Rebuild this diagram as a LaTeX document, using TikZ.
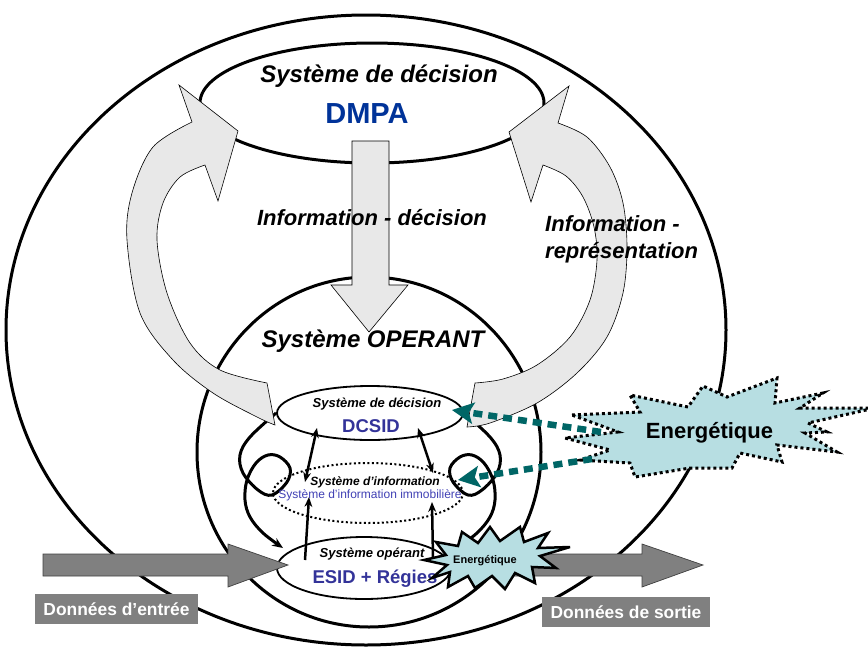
\documentclass[tikz,border=0pt]{standalone}
\usepackage{fontspec}
\setmainfont{Liberation Sans}
\usetikzlibrary{shapes.geometric,arrows.meta,calc}
\definecolor{lgray}{RGB}{232,232,232}
\definecolor{dgray}{RGB}{128,128,128}
\definecolor{tealc}{RGB}{0,102,102}
\definecolor{starcyan}{RGB}{183,222,226}
\definecolor{blueA}{RGB}{0,51,153}
\definecolor{blueB}{RGB}{51,51,153}
\definecolor{blueC}{RGB}{64,64,180}
\begin{document}
\begin{tikzpicture}[x=1pt,y=-1pt,
 ell/.style={draw,ellipse,inner sep=0pt},
 thickell/.style={ell,line width=3pt},
 curvarrow/.style={fill=lgray,draw=black,line width=0.6pt,line join=miter},
 datarrow/.style={fill=dgray,draw=black!75,line width=0.7pt},
 databox/.style={fill=dgray,text=white,inner sep=0pt,font=\bfseries\fontsize{17.4}{20}\selectfont},
 loopline/.style={line width=3pt,-{Stealth[length=11pt,width=9pt,line width=0pt]}},
 linkarrow/.style={line width=2.5pt,-{Stealth[length=10pt,width=8pt,line width=0pt]}},
 dlinkarrow/.style={line width=2.5pt,{Stealth[length=10pt,width=8pt,line width=0pt]}-{Stealth[length=10pt,width=8pt,line width=0pt]}},
 tealarrow/.style={draw=tealc,line width=6.5pt,dash pattern=on 9pt off 6pt,-{Stealth[length=22pt,width=22pt,inset=5pt,line width=0pt]}},
 starbig/.style={fill=starcyan,draw=black,line width=3pt,dash pattern=on 3pt off 3pt},
 starsmall/.style={fill=starcyan,draw=black,line width=2.5pt,miter limit=6},
 bigtitle/.style={anchor=base,inner sep=0pt,font=\bfseries\itshape\fontsize{24}{26}\selectfont},
 infolabel/.style={anchor=base,inner sep=0pt,font=\bfseries\itshape\fontsize{22}{25}\selectfont},
 smalltitle/.style={anchor=base,inner sep=0pt,font=\bfseries\itshape\fontsize{13}{15}\selectfont},
 bluebig/.style={anchor=base,inner sep=0pt,text=blueB,font=\bfseries\fontsize{18.5}{20}\selectfont}
]
\useasboundingbox (0,0) rectangle (868,646);

% large ellipses
\node[thickell,minimum width=720pt,minimum height=630pt] (outer) at (366,330) {};
\node[thickell,minimum width=344pt,minimum height=350pt] (operant) at (369,452) {};
\node[thickell,fill=white,minimum width=344pt,minimum height=120pt] (dmpa) at (372,103) {};

% inner ellipses
\node[ell,line width=1.8pt,fill=white,minimum width=186pt,minimum height=54pt] (dcsid) at (370,413) {};
\node[ell,line width=2pt,dash pattern=on 2pt off 2.5pt,minimum width=190pt,minimum height=60pt] (info) at (368,493) {};
\node[ell,line width=1.8pt,fill=white,minimum width=174pt,minimum height=62pt] (esid) at (364,568) {};

% loops
\coordinate (lloopend) at (283,548);
\coordinate (rloopend) at (457,548);
\draw[loopline] plot[smooth,tension=0.6] coordinates {(dcsid.west) (250,437) (240,455) (243,473) (258,490) (272,495) (287,482) (290,468) (280,457) (268,455) (256,463) (247,480) (245,500) (250,517) (263,533) (lloopend)};
\draw[loopline] plot[smooth,tension=0.6] coordinates {(dcsid.east) (490,437) (500,455) (497,473) (482,490) (468,495) (453,482) (450,468) (460,457) (472,455) (484,463) (493,480) (495,500) (490,517) (477,533) (rloopend)};

% links between ellipses
\draw[dlinkarrow] ($(dcsid.center)+(-53,15)$) -- ($(info.center)+(-63,-11)$);
\draw[dlinkarrow] ($(dcsid.center)+(48,15)$) -- ($(info.center)+(65,-20)$);
\draw[linkarrow] ($(esid.center)+(-59,-8)$) -- ($(info.center)+(-59,4)$);
\draw[linkarrow] ($(esid.center)+(69,-10)$) -- ($(info.center)+(64,9)$);

% data arrows
\filldraw[datarrow] (43,554) -- (228,554) -- (228,544) -- (288,565) -- (228,587) -- (228,576) -- (43,576) -- cycle;
\filldraw[datarrow] (480,554) -- (642,554) -- (642,544) -- (703,565) -- (642,587) -- (642,576) -- (480,576) -- cycle;
\node[databox,minimum width=163pt,minimum height=30pt] (din) at (116.5,609) {Données d’entrée};
\node[databox,minimum width=168pt,minimum height=30pt] (dout) at (626,612) {Données de sortie};

% curved big arrows
\filldraw[curvarrow] (179,85) -- (238,131) -- (218,201) -- (205,165)
 -- plot[smooth,tension=0.55] coordinates {(205,165) (180,177) (163,203) (157,240) (167,293) (190,343) (220,370) (267,383)}
 -- (275,425)
 -- plot[smooth,tension=0.55] coordinates {(275,425) (257,417) (213,393) (173,360) (140,313) (127,240) (132,193) (153,147) (192,122)}
 -- cycle;
\filldraw[curvarrow] (569,86) -- (509,132) -- (531,202) -- (543,165)
 -- plot[smooth,tension=0.55] coordinates {(543,165) (566,176) (583,197) (594,227) (597,260) (590,300) (570,337) (537,365) (503,379) (475,383)}
 -- (467,427)
 -- plot[smooth,tension=0.55] coordinates {(467,427) (490,423) (537,403) (577,373) (607,337) (623,293) (627,247) (623,203) (610,167) (587,137) (558,123)}
 -- cycle;
% down arrow
\filldraw[curvarrow] (352,141) -- (389,141) -- (389,285) -- (408,285) -- (369,332) -- (331,285) -- (352,285) -- cycle;

% big star
\filldraw[starbig] (572,415) -- (640,412) -- (630,395) -- (688,407) -- (703,386) -- (727,397) -- (777,378) -- (775,403) -- (823,393) -- (800,408) -- (875,408) -- (808,423) -- (827,432) -- (805,433) -- (837,452) -- (777,445) -- (782,462) -- (740,453) -- (732,468) -- (690,468) -- (635,477) -- (630,463) -- (580,460) -- (610,450) -- (565,438) -- (618,432) -- cycle;
\node[anchor=base,inner sep=0pt,font=\bfseries\fontsize{22}{24}\selectfont] (energ) at (709.5,438) {Energétique};

% teal arrows
\coordinate (tealstartA) at (601,432);
\coordinate (tealstartB) at (592,459);
\draw[tealarrow] (tealstartA) -- ($(dcsid.center)+(82,-3)$);
\draw[tealarrow] (tealstartB) -- ($(info.center)+(90,-13)$);

% texts
\node[bigtitle] (t1) at (379,82) {Système de décision};
\node[anchor=base,inner sep=0pt,text=blueA,font=\bfseries\fontsize{29}{31}\selectfont] (t2) at (367,123) {DMPA};
\node[infolabel] (t3) at (372,225) {Information - décision};
\node[infolabel,anchor=base west] (t4) at (545,231) {Information -};
\node[infolabel,anchor=base west] (t5) at (545,258) {représentation};
\node[bigtitle] (t6) at (373,347) {Système OPERANT};
\node[smalltitle] (t7) at (377,407) {Système de décision};
\node[bluebig] (t8) at (371,432) {DCSID};
\node[anchor=base,inner sep=0pt,font=\bfseries\itshape\fontsize{12}{14}\selectfont] (t9) at (375,485.5) {Système d’information};
\node[anchor=base,inner sep=0pt,text=blueC,font=\fontsize{12}{14}\selectfont] (t10) at (370,498.5) {Système d’information immobilière};
\node[smalltitle] (t11) at (372,557) {Système opérant};
\node[bluebig] (t12) at (375,583) {ESID + Régies};

% small star
\filldraw[starsmall] (424,560) -- (446,555) -- (436,542) -- (458,546) -- (462,532) -- (478,543) -- (490,527) -- (500,541) -- (520,527) -- (524,542) -- (548,533) -- (538,548) -- (570,547) -- (540,556) -- (556,568) -- (532,567) -- (535,583) -- (515,573) -- (505,589) -- (492,576) -- (475,588) -- (468,576) -- (448,587) -- (450,572) -- (432,578) -- (447,565) -- cycle;
\node[anchor=base,inner sep=0pt,font=\bfseries\fontsize{11}{12}\selectfont] (energsmall) at (485,563) {Energétique};
\end{tikzpicture}
\end{document}
